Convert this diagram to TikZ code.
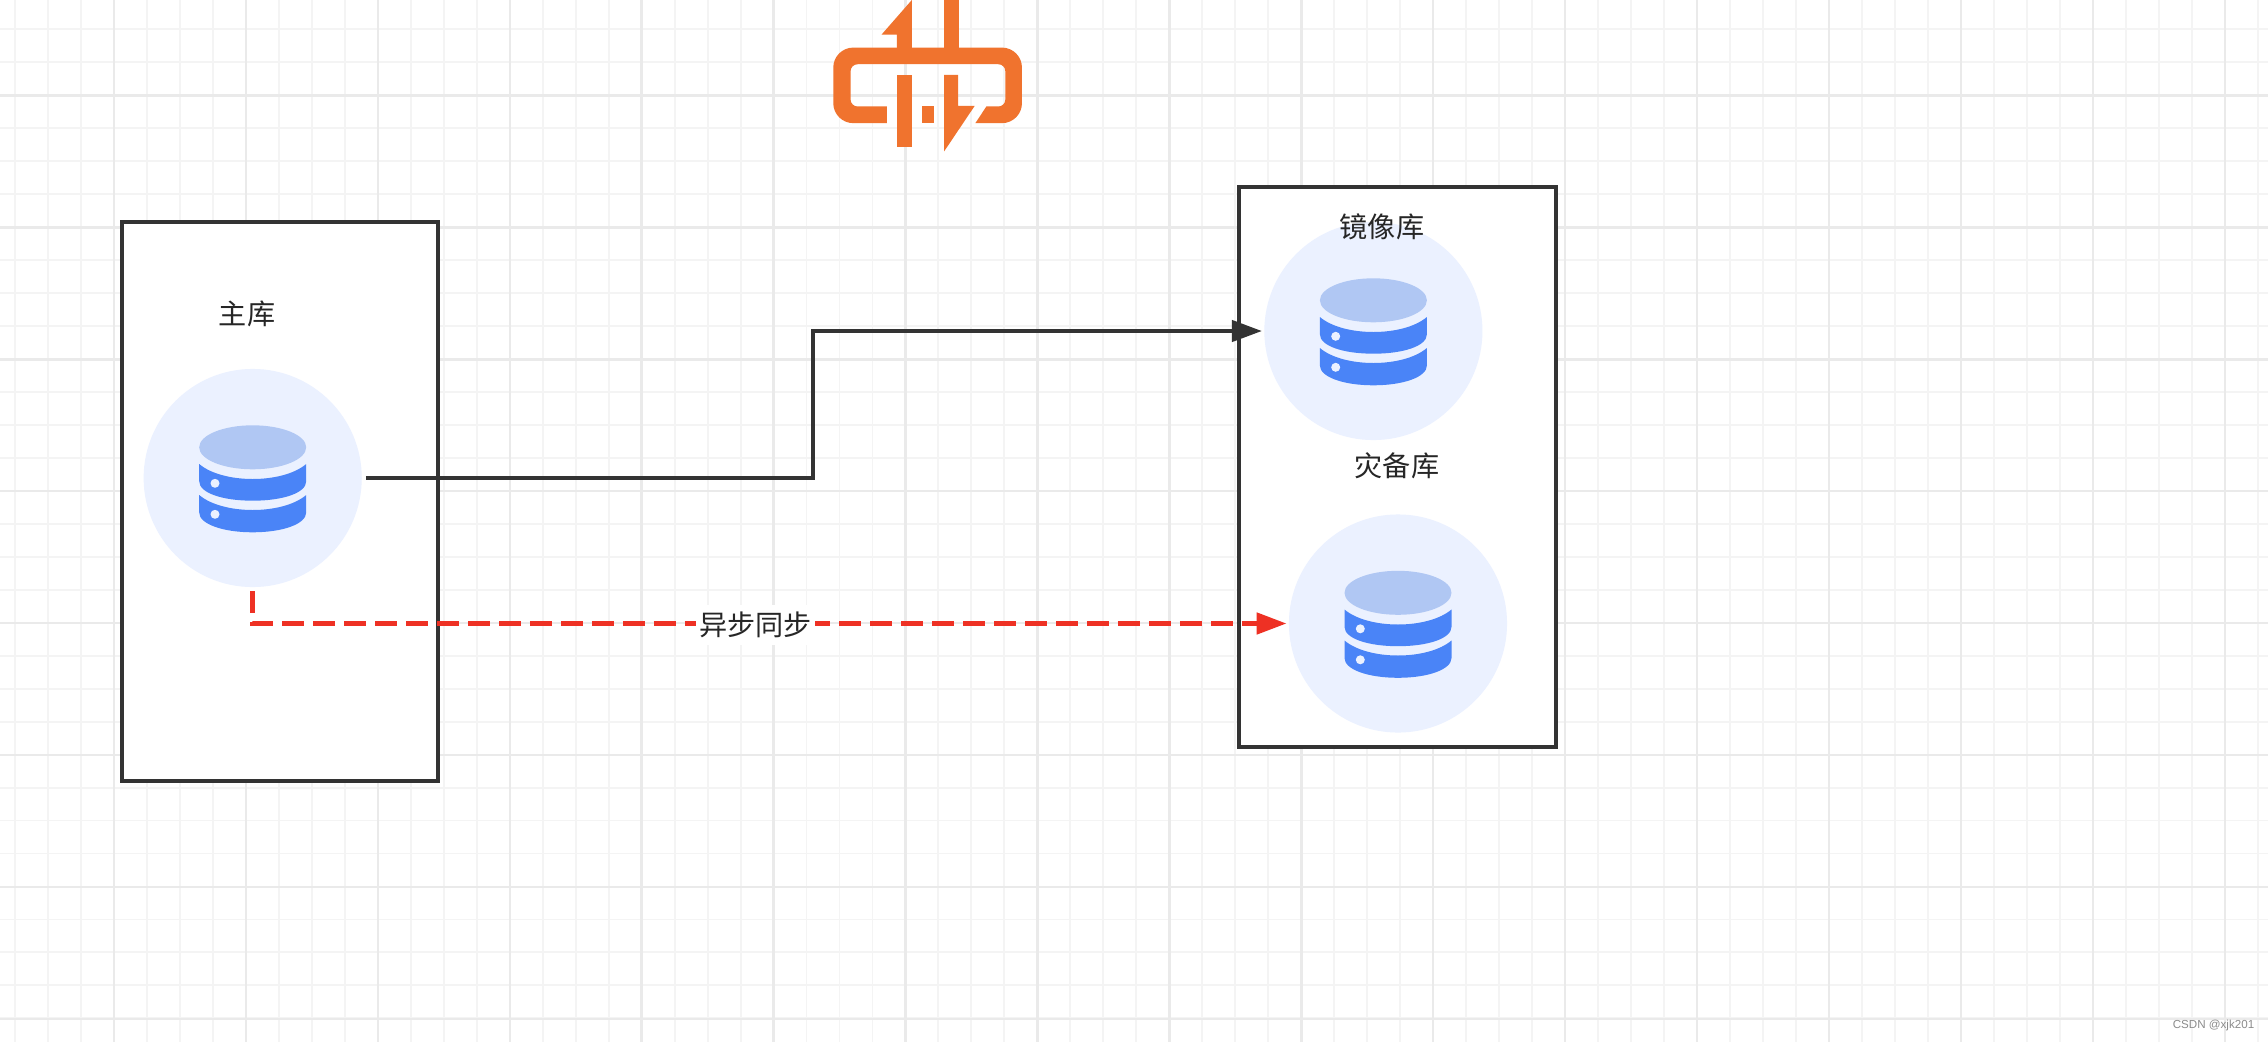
\documentclass[tikz,border=0pt]{standalone}
\usepackage{fontspec}
\newfontfamily\cjk{Noto Sans CJK SC}
\setmainfont{Liberation Sans}
\usetikzlibrary{arrows.meta}
\definecolor{gridminor}{HTML}{F4F4F4}
\definecolor{gridmajor}{HTML}{EAEAEA}
\definecolor{wirec}{HTML}{333333}
\definecolor{syncred}{HTML}{EE3124}
\definecolor{dbbg}{HTML}{EBF1FF}
\definecolor{dbtop}{HTML}{B0C7F3}
\definecolor{dbband}{HTML}{4A84F7}
\definecolor{logoc}{HTML}{F0732E}
\tikzset{
  gminor/.style  = {draw=gridminor, line width=0.55pt},
  gmajor/.style  = {draw=gridmajor, line width=0.7pt},
  store/.style   = {draw=wirec, fill=white, line width=1.1pt, inner sep=0pt},
  dbdisc/.style  = {circle, fill=dbbg, inner sep=0pt, minimum size=2.18cm},
  wire/.style    = {draw=wirec, line width=1.1pt, -{Triangle[length=8.5pt,width=6pt]}},
  iwire/.style   = {draw=syncred, line width=1.3pt, dash pattern=on 6.2pt off 2.6pt,
                    -{Triangle[length=8.5pt,width=6pt]}},
  lbl/.style     = {font=\cjk\fontsize{8}{10}\selectfont, text=black!85, inner sep=0pt},
  % database icon, drawn around the centre of its disc
  dbicon/.pic    = {
    \fill[dbtop] (0,-30.7) ellipse (53.5 and 22);
    \fill[dbband] (-53.5,-14) .. controls (-30,6) and (30,6) .. (53.5,-14)
      -- (53.5,3.3) .. controls (53.5,15) and (30,22.7) .. (0,22.7)
      .. controls (-30,22.7) and (-53.5,15) .. (-53.5,3.3) -- cycle;
    \fill[dbband] (-53.5,17) .. controls (-30,37) and (30,37) .. (53.5,17)
      -- (53.5,34.5) .. controls (53.5,46) and (30,54.3) .. (0,54.3)
      .. controls (-30,54.3) and (-53.5,46) .. (-53.5,34.5) -- cycle;
    \fill[dbbg] (-37.7,5.3) circle (4.5) (-37.7,36.3) circle (4.5);
  },
}

\begin{document}
\begin{tikzpicture}[x=0.01cm,y=-0.01cm]
  \useasboundingbox (0,0) rectangle (2268,1042);
  \fill[white] (0,0) rectangle (2268,1042);
  % grid
  \foreach \i in {0,...,68} {
    \draw[gminor] ({15+32.98*\i},0) -- ({15+32.98*\i},1042);
  }
  \foreach \i in {0,...,31} {
    \draw[gminor] (0,{29+32.98*\i}) -- (2268,{29+32.98*\i});
  }
  \foreach \i in {0,...,16} {
    \draw[gmajor] ({114+131.92*\i},0) -- ({114+131.92*\i},1042);
  }
  \foreach \i in {0,...,7} {
    \draw[gmajor] (0,{95.5+131.92*\i}) -- (2268,{95.5+131.92*\i});
  }
  % logo
  \begin{scope}[shift={(800,0)},x=0.00333cm,y=-0.00333cm]
    \fill[logoc] (336,0) -- (245,104) -- (291,104) -- (291,146) -- (336,146) -- cycle;
    \fill[logoc] (433,0) rectangle (477,146);
    \fill[logoc] (261,370) [rounded corners=0.2cm] -- (100,370) -- (100,143)
      -- (667,143) -- (667,370) [sharp corners] -- (527,370) -- (560,320)
      [rounded corners=0.07cm] -- (617,320) -- (617,193) -- (152,193) -- (152,320)
      [sharp corners] -- (261,320) -- cycle;
    \fill[logoc] (291,225) rectangle (337,443);
    \fill[logoc] (367,320) rectangle (403,370);
    \fill[logoc] (433,225) -- (475,225) -- (475,318) -- (525,318) -- (433,455) -- cycle;
  \end{scope}
  % stores
  \node[store, minimum width=3.16cm, minimum height=5.59cm] (mainbox) at (280,501.5) {};
  \node[store, minimum width=3.17cm, minimum height=5.60cm] (replbox) at (1397.5,467) {};
  % databases
  \node[dbdisc] (maindb) at (252.7,478) {};
  \node[dbdisc] (mirrordb) at (1373.4,331) {};
  \node[dbdisc] (drdb) at (1398,623.5) {};
  \pic at (maindb) {dbicon};
  \pic at (mirrordb) {dbicon};
  \pic at (drdb) {dbicon};
  % labels
  \node[lbl] (mainlbl) at (247,314) {主库};
  \node[lbl] (mirrorlbl) at (1382,227) {镜像库};
  \node[lbl] (drlbl) at (1397,466) {灾备库};
  % connectors
  \coordinate (bend) at (813,331);
  \draw[wire, shorten <=1pt, shorten >=0.5pt] (maindb.east) -| (bend) -- (mirrordb.west);
  \draw[iwire, shorten <=1pt, shorten >=0.5pt] (maindb.south) |- (drdb.west);
  \node[lbl, fill=white, inner xsep=0.8pt, minimum height=0.4cm] (synclbl) at (755.5,625) {异步同步};
  % watermark
  \node[font=\fontsize{3.3}{4}\selectfont, text=black!45, inner sep=0pt] (mark) at (2213.5,1025) {CSDN @xjk201};
\end{tikzpicture}
\end{document}
